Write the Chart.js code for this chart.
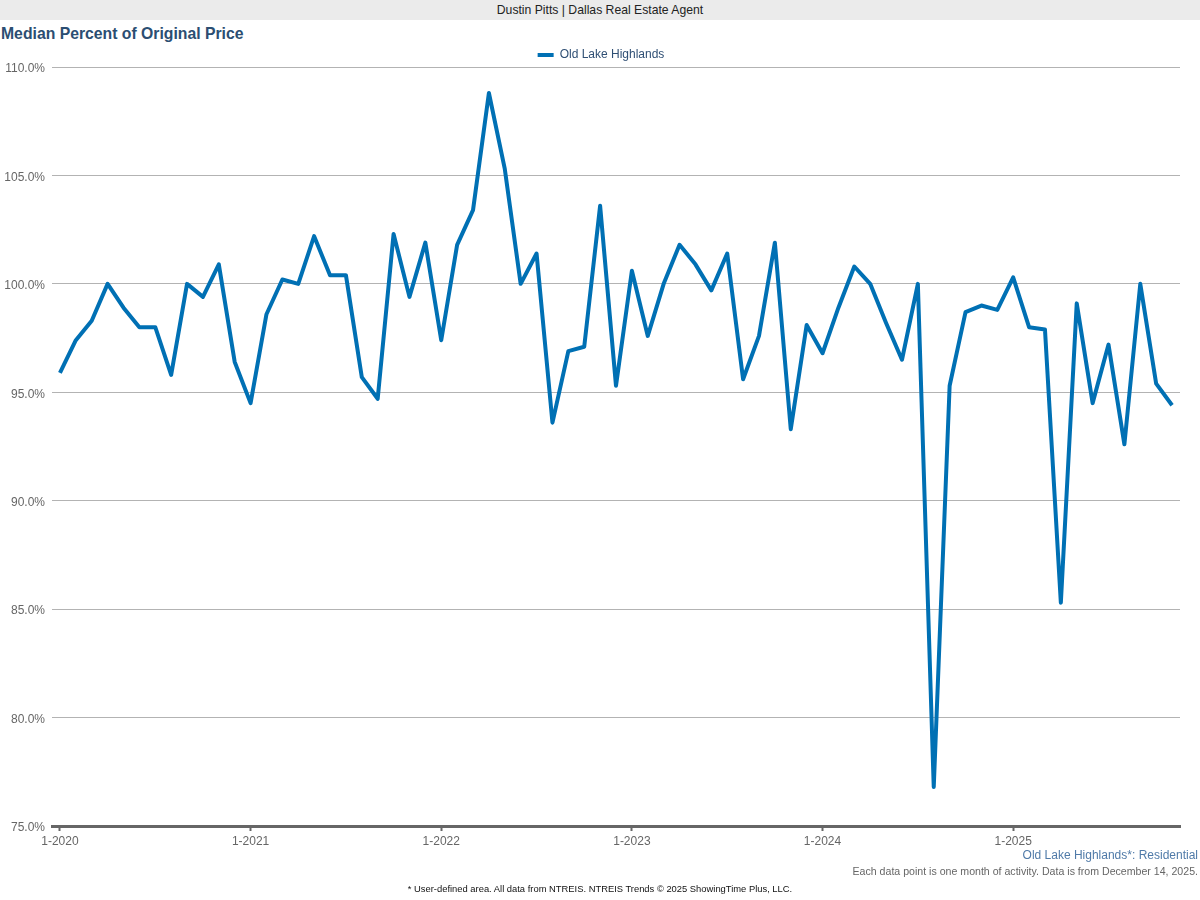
<!DOCTYPE html>
<html>
<head>
<meta charset="utf-8">
<script src="https://cdn.jsdelivr.net/npm/chart.js@4.4.1/dist/chart.umd.min.js"></script>
<style>
  html, body { margin: 0; padding: 0; background: #ffffff; }
  body { width: 1200px; height: 900px; position: relative; overflow: hidden; font-family: "Liberation Sans", Arial, sans-serif; }
  #banner { position: absolute; left: 0; top: 0; width: 1200px; height: 20px; background: #ebebeb; color: #222; font-size: 12.2px; line-height: 20px; text-align: center; }
  #title { position: absolute; left: 1px; top: 24px; font-size: 15.75px; font-weight: bold; color: #2b4e72; line-height: 20px; white-space: nowrap; }
  #area { position: absolute; right: 2px; top: 847px; font-size: 12px; color: #4f7aa8; line-height: 16px; white-space: nowrap; }
  #note { position: absolute; right: 2px; top: 864px; font-size: 10.6px; color: #666; line-height: 14px; white-space: nowrap; }
  #footer { position: absolute; left: 0; width: 1200px; top: 883px; font-size: 9.4px; color: #111; line-height: 12px; text-align: center; white-space: nowrap; }
  #chart { position: absolute; left: 0; top: 0; }
</style>
</head>
<body>
<div id="banner">Dustin Pitts | Dallas Real Estate Agent</div>
<div id="title">Median Percent of Original Price</div>
<canvas id="chart" width="1200" height="900"></canvas>
<div id="area">Old Lake Highlands*: Residential</div>
<div id="note">Each data point is one month of activity. Data is from December 14, 2025.</div>
<div id="footer">* User-defined area. All data from NTREIS. NTREIS Trends © 2025 ShowingTime Plus, LLC.</div>
<script>
// Series name
const seriesName = "Old Lake Highlands";
// Monthly values, Jan 2020 .. Nov 2025 (percent)
const values2020 = [95.9, 97.4, 98.3, 100.0, 98.9, 98.0, 98.0, 95.8, 100.0, 99.4, 100.9, 96.4];
const values2021 = [94.5, 98.6, 100.2, 100.0, 102.2, 100.4, 100.4, 95.7, 94.7, 102.3, 99.4, 101.9];
const values2022 = [97.4, 101.8, 103.4, 108.8, 105.3, 100.0, 101.4, 93.6, 96.9, 97.1, 103.6, 95.3];
const values2023 = [100.6, 97.6, 100.0, 101.8, 100.9, 99.7, 101.4, 95.6, 97.6, 101.9, 93.3, 98.1];
const values2024 = [96.8, 98.9, 100.8, 100.0, 98.2, 96.5, 100.0, 76.8, 95.3, 98.7, 99.0, 98.8];
const values2025 = [100.3, 98.0, 97.9, 85.3, 99.1, 94.5, 97.2, 92.6, 100.0, 95.4, 94.4];
const values = [...values2020, ...values2021, ...values2022, ...values2023, ...values2024, ...values2025];
// X tick labels (placed at each January)
const tickLabels = ["1-2020", "1-2021", "1-2022", "1-2023", "1-2024", "1-2025"];
const tickMonthIndex = [0, 12, 24, 36, 48, 60];
// Y axis range
const yMin = 75, yMax = 110, yStep = 5;

const points = values.map((v, i) => ({ x: i, y: v }));
const lineColor = "#0070b4";

// nudge the legend (centred on the page, a little lower) without moving the plot area
const legendNudge = {
  id: "legendNudge",
  afterLayout(chart) {
    const lg = chart.legend;
    if (lg) { lg.top += 4; lg.bottom += 4; lg.left += 11; lg.right += 11; }
  }
};

new Chart(document.getElementById("chart"), {
  type: "line",
  data: {
    datasets: [{
      label: seriesName,
      data: points,
      borderColor: lineColor,
      backgroundColor: lineColor,
      borderWidth: 4,
      borderJoinStyle: "round",
      pointRadius: 0,
      pointHoverRadius: 0,
      tension: 0,
      fill: false
    }]
  },
  plugins: [legendNudge],
  options: {
    responsive: false,
    animation: false,
    events: [],
    layout: { padding: { top: 35, left: 0, right: 20, bottom: 44 } },
    plugins: {
      tooltip: { enabled: false },
      legend: {
        display: true,
        position: "top",
        align: "center",
        labels: {
          boxWidth: 16,
          boxHeight: 4,
          padding: 10,
          color: "#2f4f74",
          font: { family: "'Liberation Sans', Arial, sans-serif", size: 12 },
          generateLabels: (chart) => Chart.defaults.plugins.legend.labels.generateLabels(chart)
            .map(l => Object.assign(l, { lineWidth: 0, fillStyle: lineColor, strokeStyle: lineColor }))
        }
      }
    },
    scales: {
      x: {
        type: "linear",
        min: -0.5,
        max: values.length - 0.5,
        afterBuildTicks: (scale) => { scale.ticks = tickMonthIndex.map(v => ({ value: v })); },
        afterFit: (scale) => { scale.height = 30; },
        ticks: {
          autoSkip: false,
          maxRotation: 0,
          padding: 3,
          color: "#666666",
          font: { family: "'Liberation Sans', Arial, sans-serif", size: 12 },
          callback: (value) => { const k = tickMonthIndex.indexOf(value); return k >= 0 ? tickLabels[k] : ""; }
        },
        grid: { display: true, drawOnChartArea: false, drawTicks: true, tickLength: 5, tickColor: "#666666", tickWidth: 2 },
        border: { display: true, color: "#666666", width: 3 }
      },
      y: {
        min: yMin,
        max: yMax,
        afterFit: (scale) => { scale.width = 52; },
        ticks: {
          stepSize: yStep,
          padding: 7,
          labelOffset: 2,
          color: "#666666",
          font: { family: "'Liberation Sans', Arial, sans-serif", size: 12 },
          callback: (v) => v.toFixed(1) + "%"
        },
        grid: { color: "#b3b3b3", lineWidth: 1, drawTicks: false },
        border: { display: false }
      }
    }
  }
});
</script>
</body>
</html>
